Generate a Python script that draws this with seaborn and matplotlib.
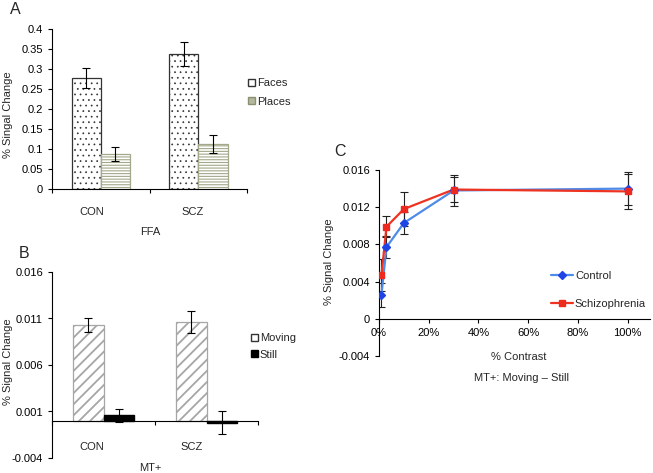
import matplotlib
matplotlib.use("Agg")
import matplotlib.pyplot as plt
from matplotlib.patches import Patch
from matplotlib.lines import Line2D
import seaborn as sns
import pandas as pd

# ---- data ----
groups = ["CON", "SCZ"]

ffa_conditions = ["Faces", "Places"]
ffa_faces = [0.278, 0.338]
ffa_faces_err = [0.025, 0.030]
ffa_places = [0.088, 0.113]
ffa_places_err = [0.017, 0.022]

mt_conditions = ["Moving", "Still"]
mt_moving = [0.0103, 0.0106]
mt_moving_err = [0.0008, 0.0012]
mt_still = [0.0006, -0.0002]
mt_still_err = [0.0007, 0.0012]

contrast = [0.01, 0.03, 0.10, 0.30, 1.00]
control = [0.0026, 0.0077, 0.0103, 0.0138, 0.0140]
control_err = [0.0013, 0.0012, 0.0012, 0.0017, 0.0018]
scz = [0.0047, 0.0099, 0.0118, 0.0139, 0.0137]
scz_err = [0.0017, 0.0011, 0.0018, 0.0013, 0.0019]

W, H = 653, 473
FS = 8
sns.set_theme(style="white")
plt.rcParams['font.family'] = ['Liberation Sans', 'DejaVu Sans']
plt.rcParams['font.size'] = FS

fig = plt.figure(figsize=(W / 100, H / 100), dpi=100)


def fx(px):
    return px / W


def fy(py):
    return 1 - py / H


def style_axis(ax):
    for s in ["top", "right"]:
        ax.spines[s].set_visible(False)
    for s in ["left", "bottom"]:
        ax.spines[s].set_color("black")
        ax.spines[s].set_linewidth(0.8)
    ax.tick_params(axis="both", direction="out", length=3, width=0.8,
                   colors="black", labelsize=FS, left=True, bottom=True)
    ax.set_xlabel("")
    ax.set_ylabel("")


def hatch_bar(p, hatch, edge, hlw):
    p.set_hatch(hatch)
    p.set_edgecolor(edge)
    p.set_linewidth(0.9)
    if hasattr(p, "set_hatch_linewidth"):
        p.set_hatch_linewidth(hlw)


def add_errbars(ax, vals_by_hue, errs_by_hue):
    for cont, vals, errs in zip(ax.containers, vals_by_hue, errs_by_hue):
        xs = [p.get_x() + p.get_width() / 2 for p in cont.patches]
        ax.errorbar(xs, vals, yerr=errs, fmt="none", ecolor="black",
                    elinewidth=0.8, capsize=3, capthick=0.8)


# ---- Panel A ----
axA = fig.add_axes([fx(52), fy(189), fx(247 - 52), (189 - 29) / H])
dfA = pd.DataFrame({
    "group": groups * 2,
    "cond": [ffa_conditions[0]] * 2 + [ffa_conditions[1]] * 2,
    "value": ffa_faces + ffa_places,
})
sns.barplot(data=dfA, x="group", y="value", hue="cond", ax=axA,
            errorbar=None, width=0.6, legend=False,
            palette=["white", "white"])
for p in axA.containers[0].patches:
    hatch_bar(p, "...", "#333333", 0.5)
for p in axA.containers[1].patches:
    hatch_bar(p, "------", "#a4a88a", 0.8)
add_errbars(axA, [ffa_faces, ffa_places], [ffa_faces_err, ffa_places_err])
style_axis(axA)
axA.set_ylim(0, 0.4)
axA.set_yticks([0, 0.05, 0.1, 0.15, 0.2, 0.25, 0.3, 0.35, 0.4])
axA.set_yticklabels(["0", "0.05", "0.1", "0.15", "0.2", "0.25", "0.3", "0.35", "0.4"])
axA.set_xlim(-0.5, 1.5)
axA.set_xticks([-0.5, 0.5, 1.5])
axA.set_xticklabels([])
axA.legend(handles=[Patch(facecolor="white", edgecolor="#333333", label="Faces"),
                    Patch(facecolor="#b4b89e", edgecolor="#8a9070", label="Places")],
           loc="upper left", bbox_to_anchor=(fx(248), fy(78)),
           bbox_transform=fig.transFigure, frameon=False, fontsize=FS,
           handlelength=0.6, handleheight=0.6, handletextpad=0.2,
           labelspacing=0.8, borderpad=0, borderaxespad=0)
fig.text(fx(15), fy(9), "A", fontsize=11.5, ha="center", va="center")
fig.text(fx(8), fy(115), "% Singal Change", rotation=90, ha="center", va="center", fontsize=FS)
fig.text(fx(92), fy(212), groups[0], ha="center", va="center", fontsize=FS)
fig.text(fx(193), fy(212), groups[1], ha="center", va="center", fontsize=FS)
fig.text(fx(150), fy(232), "FFA", ha="center", va="center", fontsize=FS)

# ---- Panel B ----
axB = fig.add_axes([fx(52), fy(458), fx(258 - 52), (458 - 272) / H])
dfB = pd.DataFrame({
    "group": groups * 2,
    "cond": [mt_conditions[0]] * 2 + [mt_conditions[1]] * 2,
    "value": mt_moving + mt_still,
})
sns.barplot(data=dfB, x="group", y="value", hue="cond", ax=axB,
            errorbar=None, width=0.6, legend=False,
            palette=["white", "black"])
for p in axB.containers[0].patches:
    hatch_bar(p, "///", "#a6a6a6", 1.3)
for p in axB.containers[1].patches:
    p.set_edgecolor("black")
add_errbars(axB, [mt_moving, mt_still], [mt_moving_err, mt_still_err])
style_axis(axB)
axB.spines["bottom"].set_position(("data", 0))
axB.set_ylim(-0.004, 0.016)
axB.set_yticks([-0.004, 0.001, 0.006, 0.011, 0.016])
axB.set_yticklabels(["-0.004", "0.001", "0.006", "0.011", "0.016"])
axB.set_xlim(-0.5, 1.5)
axB.set_xticks([-0.5, 0.5, 1.5])
axB.set_xticklabels([])
axB.legend(handles=[Patch(facecolor="white", edgecolor="#333333", label="Moving"),
                    Patch(facecolor="black", edgecolor="black", label="Still")],
           loc="upper left", bbox_to_anchor=(fx(251), fy(333)),
           bbox_transform=fig.transFigure, frameon=False, fontsize=FS,
           handlelength=0.6, handleheight=0.6, handletextpad=0.2,
           labelspacing=0.6, borderpad=0, borderaxespad=0)
fig.text(fx(24), fy(253), "B", fontsize=11.5, ha="center", va="center")
fig.text(fx(8), fy(362), "% Signal Change", rotation=90, ha="center", va="center", fontsize=FS)
fig.text(fx(92), fy(447), groups[0], ha="center", va="center", fontsize=FS)
fig.text(fx(192), fy(447), groups[1], ha="center", va="center", fontsize=FS)
fig.text(fx(150), fy(468), "MT+", ha="center", va="center", fontsize=FS)

# ---- Panel C ----
axC = fig.add_axes([fx(379), fy(356), fx(650 - 379), (356 - 170) / H])
dfC = pd.DataFrame({
    "contrast": contrast * 2,
    "value": control + scz,
    "group": ["Control"] * len(contrast) + ["Schizophrenia"] * len(contrast),
})
line_colors = {"Control": "#4f8be8", "Schizophrenia": "#ee3322"}
sns.lineplot(data=dfC, x="contrast", y="value", hue="group", ax=axC,
             palette=line_colors, linewidth=1.6, legend=False, errorbar=None)
axC.errorbar(contrast, control, yerr=control_err, fmt="none", ecolor="#222222",
             elinewidth=0.8, capsize=3, capthick=0.8, zorder=1)
axC.errorbar(contrast, scz, yerr=scz_err, fmt="none", ecolor="#222222",
             elinewidth=0.8, capsize=3, capthick=0.8, zorder=1)
axC.plot(contrast, control, linestyle="none", marker="D", markersize=4.5,
         color="#1f44e6", zorder=4)
axC.plot(contrast, scz, linestyle="none", marker="s", markersize=4.5,
         color="#ee2a1e", zorder=4)
style_axis(axC)
axC.spines["bottom"].set_position(("data", 0))
axC.set_ylim(-0.004, 0.016)
axC.set_yticks([-0.004, 0, 0.004, 0.008, 0.012, 0.016])
axC.set_yticklabels(["-0.004", "0", "0.004", "0.008", "0.012", "0.016"])
axC.set_xlim(0, 1.09)
axC.set_xticks([0, 0.2, 0.4, 0.6, 0.8, 1.0])
axC.set_xticklabels(["0%", "20%", "40%", "60%", "80%", "100%"])
axC.legend(handles=[Line2D([], [], color="#4f8be8", lw=1.6, marker="D", markersize=4.5,
                           markerfacecolor="#1f44e6", markeredgecolor="#1f44e6", label="Control"),
                    Line2D([], [], color="#ee3322", lw=1.6, marker="s", markersize=4.5,
                           markerfacecolor="#ee2a1e", markeredgecolor="#ee2a1e", label="Schizophrenia")],
           loc="upper left", bbox_to_anchor=(fx(551), fy(271)),
           bbox_transform=fig.transFigure, frameon=False, fontsize=FS,
           handlelength=2.0, handletextpad=0.15,
           labelspacing=1.6, borderpad=0, borderaxespad=0)
fig.text(fx(340), fy(152), "C", fontsize=11.5, ha="center", va="center")
fig.text(fx(329), fy(262), "% Signal Change", rotation=90, ha="center", va="center", fontsize=FS)
fig.text(fx(519), fy(357), "% Contrast", ha="center", va="center", fontsize=FS)
fig.text(fx(522), fy(378), "MT+: Moving \u2013 Still", ha="center", va="center", fontsize=FS)

fig.savefig("out.png", dpi=100)
